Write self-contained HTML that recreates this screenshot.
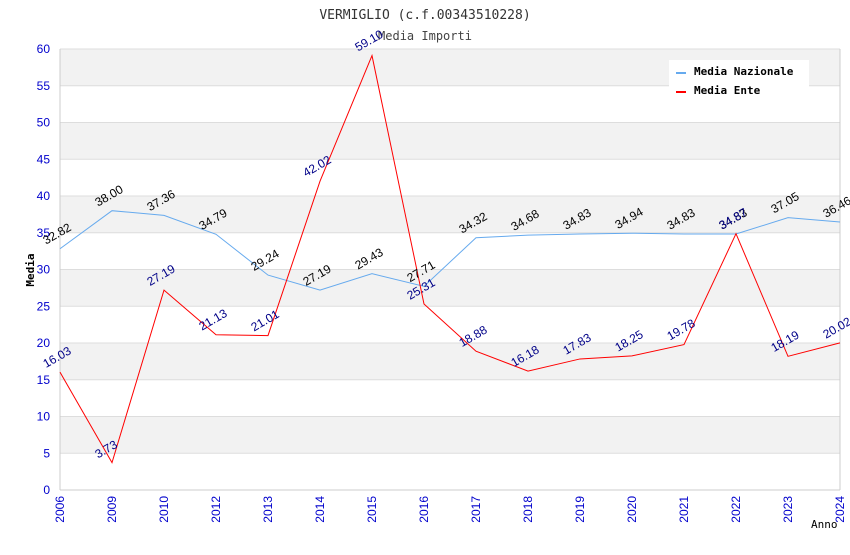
<!DOCTYPE html>
<html><head><meta charset="utf-8"><style>
body{margin:0;background:#fff;}
svg text{font-family:"Liberation Sans",sans-serif;}
</style></head><body>
<svg id="chart" width="850" height="550" xmlns="http://www.w3.org/2000/svg">
<text x="425" y="19" text-anchor="middle" font-size="13" fill="#333" style="font-family:'DejaVu Sans Mono',monospace">VERMIGLIO (c.f.00343510228)</text>
<text x="425" y="40" text-anchor="middle" font-size="12" fill="#444" style="font-family:'DejaVu Sans Mono',monospace">Media Importi</text>
<g id="bands"></g><g id="grid"></g><g id="axes"></g><g id="lines"></g><g id="labels"></g>
<text transform="translate(34,270) rotate(-90)" text-anchor="middle" font-size="11" font-weight="bold" style="font-family:'DejaVu Sans Mono',monospace">Media</text>
<text x="811" y="528" font-size="11" style="font-family:'DejaVu Sans Mono',monospace">Anno</text>
<g>
<rect x="669" y="60" width="140" height="56" fill="#fff"/>
<rect x="676" y="72" width="10" height="2" fill="#66aaee"/>
<text x="694" y="75" font-size="11" font-weight="bold" style="font-family:'DejaVu Sans Mono',monospace">Media Nazionale</text>
<rect x="676" y="91" width="10" height="2" fill="#ff0000"/>
<text x="694" y="94" font-size="11" font-weight="bold" style="font-family:'DejaVu Sans Mono',monospace">Media Ente</text>
</g>
</svg>
<script>
const years=["2006","2009","2010","2012","2013","2014","2015","2016","2017","2018","2019","2020","2021","2022","2023","2024"];
const nazionale=[32.82,38.00,37.36,34.79,29.24,27.19,29.43,27.71,34.32,34.68,34.83,34.94,34.83,34.83,37.05,36.46];
const ente=[16.03,3.73,27.19,21.13,21.01,42.02,59.10,25.31,18.88,16.18,17.83,18.25,19.78,34.87,18.19,20.02];
const yTicks=[0,5,10,15,20,25,30,35,40,45,50,55,60];
const NS="http://www.w3.org/2000/svg";
const L=60,R=840,T=49,B=490,yMax=60;
const xs=i=>L+i*(R-L)/(years.length-1);
const ys=v=>B-v*(B-T)/yMax;
function mk(tag,attrs,parent){const e=document.createElementNS(NS,tag);for(const k in attrs)e.setAttribute(k,attrs[k]);document.getElementById(parent).appendChild(e);return e;}
for(let i=0;i<yTicks.length-1;i++){
  if((yTicks.length-2-i)%2===0){const r=mk('rect',{x:L,y:ys(yTicks[i+1]),width:R-L,height:ys(yTicks[i])-ys(yTicks[i+1]),fill:'#f2f2f2'},'bands');
  
  }
}
yTicks.forEach(v=>{
  const g=mk('line',{x1:L,x2:R,y1:ys(v),y2:ys(v),stroke:'#dddddd'},'grid');
  
  
  const t=mk('text',{x:L-10,y:ys(v)+4,'text-anchor':'end','font-size':12,fill:'#0000cc'},'axes');
  t.textContent=v;
  
  
});
mk('line',{x1:L,x2:L,y1:T,y2:B,stroke:'#ccc'},'axes');
mk('line',{x1:R,x2:R,y1:T,y2:B,stroke:'#ccc'},'axes');
mk('line',{x1:L,x2:R,y1:B,y2:B,stroke:'#ccc'},'axes');
years.forEach((y,i)=>{
  const t=mk('text',{transform:`translate(${xs(i)+4},${B+6}) rotate(-90)`,'text-anchor':'end','font-size':12,fill:'#0000cc'},'axes');
  t.textContent=y;
  
  
});
function series(vals,color,lblColor,name){
  const p=mk('polyline',{points:vals.map((v,i)=>xs(i)+','+ys(v)).join(' '),fill:'none',stroke:color,'stroke-width':1},'lines');
  
  
  vals.forEach((v,i)=>{
    const t=mk('text',{transform:`translate(${xs(i)-14},${ys(v)-4}) rotate(-30)`,'font-size':12,fill:lblColor},'labels');
    t.textContent=v.toFixed(2);
    
    
  });
}
series(nazionale,'#66aaee','#000','media-nazionale');
series(ente,'#ff0000','#000088','media-ente');
</script>
</body></html>
